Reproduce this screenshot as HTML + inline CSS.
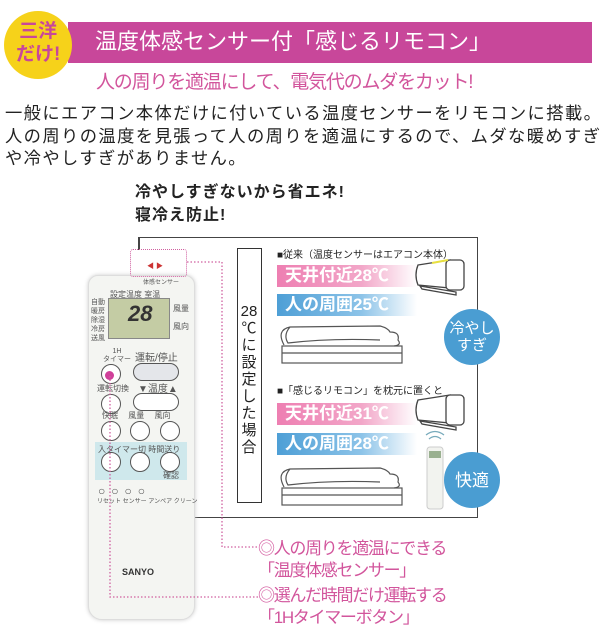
<!DOCTYPE html>
<html><head><meta charset="utf-8"><style>
*{margin:0;padding:0;box-sizing:border-box}
body{width:600px;height:625px;background:#fff;position:relative;overflow:hidden;font-family:"Liberation Sans","Noto Sans CJK JP",sans-serif;color:#222}
.a{position:absolute;white-space:nowrap}
.pk{color:#d2559c}
.bar{position:absolute;height:22px;font-weight:bold;color:#fff;font-size:17px;line-height:22px;padding-left:8px}
.p{background:linear-gradient(90deg,#ee7fb2 0%,#f2a6c8 60%,#fff 100%)}
.b{background:linear-gradient(90deg,#4e9fd6 0%,#8cc3e8 60%,#fff 100%)}
.circ{position:absolute;width:56px;height:56px;border-radius:50%;background:#4a9dd2;color:#fff;text-align:center;font-size:15px;line-height:17px;display:flex;align-items:center;justify-content:center}
.btn{position:absolute;width:20px;height:20px;border:1.5px solid #555;border-radius:50%;background:#fff}
.sm{position:absolute;font-size:8px;color:#555;white-space:nowrap}
</style></head><body>
<div class="a" style="left:68px;top:22px;width:524px;height:41px;background:#c8479a"></div>
<div class="a" style="left:95px;top:26px;color:#fff;font-size:22px;line-height:32px">温度体感センサー付「感じるリモコン」</div>
<div class="a" style="left:4px;top:11px;width:68px;height:68px;border-radius:50%;background:#f6d21a"></div>
<div class="a" style="left:16px;top:20px;font-size:19px;font-weight:bold;color:#c8479a;line-height:23px;text-align:center">三洋<br>だけ!</div>
<div class="a pk" style="left:96px;top:70px;font-size:19px;line-height:26px;letter-spacing:-1.2px">人の周りを適温にして、電気代のムダをカット!</div>
<div class="a" style="left:5px;top:102px;font-size:17.3px;line-height:22.5px;letter-spacing:1.4px">一般にエアコン本体だけに付いている温度センサーをリモコンに搭載。<br>人の周りの温度を見張って人の周りを適温にするので、ムダな暖めすぎ<br>や冷やしすぎがありません。</div>
<div class="a" style="left:135px;top:181px;font-size:16px;font-weight:bold;line-height:23px;letter-spacing:1px">冷やしすぎないから省エネ!<br>寝冷え防止!</div>

<div class="a" style="left:138px;top:237px;width:340px;height:281px;border-top:1.5px solid #444;border-right:1.5px solid #444;border-bottom:1.5px solid #444"></div>
<div class="a" style="left:138px;top:237px;width:1.5px;height:13px;background:#444"></div>

<div class="a" style="left:237px;top:248px;width:25px;height:255px;border:1.5px solid #333;background:#fff"></div>
<div class="a" style="left:238px;top:303px;width:22px;font-size:15px;line-height:17px;white-space:normal;text-align:center">28<br>℃<br>に<br>設<br>定<br>し<br>た<br>場<br>合</div>

<div class="a" style="left:277px;top:246px;font-size:10px">■従来（温度センサーはエアコン本体）</div>
<div class="bar p" style="left:277px;top:265px;width:140px">天井付近28℃</div>
<div class="bar b" style="left:277px;top:294px;width:140px">人の周囲25℃</div>
<div class="a" style="left:277px;top:382px;font-size:10px">■「感じるリモコン」を枕元に置くと</div>
<div class="bar p" style="left:277px;top:403px;width:140px">天井付近31℃</div>
<div class="bar b" style="left:277px;top:433px;width:140px">人の周囲28℃</div>

<svg class="a" style="left:270px;top:320px" width="145" height="200">
<g fill="none" stroke="#555" stroke-width="1.2">
<rect x="12" y="26" width="120" height="17"/><line x1="12" y1="33" x2="132" y2="33"/>
<path d="M14 25 Q6 10 20 7 L110 6 Q118 8 120 12 Q130 12 128 20 Q132 25 124 26 M20 7 Q13 15 18 23 Q60 18 110 20"/>
<g transform="translate(0,142)"><rect x="12" y="26" width="120" height="17"/><line x1="12" y1="33" x2="132" y2="33"/>
<path d="M14 25 Q6 10 20 7 L110 6 Q118 8 120 12 Q130 12 128 20 Q132 25 124 26 M20 7 Q13 15 18 23 Q60 18 110 20"/></g>
</g></svg>
<svg class="a" style="left:410px;top:255px" width="60" height="180">
<g fill="#fff" stroke="#444" stroke-width="1.3">
<path d="M8 10 L40 5 L40 33 L8 30 Q4 20 8 10Z"/><rect x="36" y="5" width="18" height="30" rx="4"/><path d="M10 31 L46 37 L46 40 L12 34Z"/>
<g transform="translate(0,135)"><path d="M8 10 L40 5 L40 33 L8 30 Q4 20 8 10Z"/><rect x="36" y="5" width="18" height="30" rx="4"/><path d="M10 31 L46 37 L46 40 L12 34Z"/></g>
</g>
<line x1="22" y1="8" x2="38" y2="5" stroke="#e8e040" stroke-width="2"/>
</svg>
<svg class="a" style="left:420px;top:425px" width="30" height="90">
<path d="M6 10 Q15 3 24 10 M9 14 Q15 9 21 14" fill="none" stroke="#7ab" stroke-width="1.3"/>
<rect x="7" y="22" width="16" height="62" rx="3" fill="#f2f3ef" stroke="#ccc"/><rect x="9" y="26" width="12" height="7" fill="#9ab090"/>
</svg>
<div class="circ" style="left:444px;top:309px">冷やし<br>すぎ</div>
<div class="circ" style="left:444px;top:452px;font-size:17px">快適</div>

<div class="a" style="left:88px;top:275px;width:107px;height:345px;border-radius:10px 10px 14px 14px;background:#f4f5f2;border:1px solid #ddd;box-shadow:0 0 4px #ccc"></div>
<div class="a" style="left:130px;top:249px;width:57px;height:28px;border:1.5px dotted #d060a0;border-radius:3px"></div>
<div class="a" style="left:147px;top:261px;font-size:7px;color:#c33">◀ ▶</div>
<div class="sm" style="left:143px;top:277px;font-size:6px">体感センサー</div>
<div class="sm" style="left:110px;top:289px">設定温度 室温</div>
<div class="a" style="left:108px;top:298px;width:62px;height:41px;background:#c4cca4;border:1px solid #888"></div>
<div class="a" style="left:128px;top:301px;font-size:22px;font-style:italic;font-weight:bold;color:#333">28</div>
<div class="sm" style="left:91px;top:298px;line-height:9px;font-size:7px">自動<br>暖房<br>除湿<br>冷房<br>送風</div>
<div class="sm" style="left:173px;top:300px;line-height:18px">風量<br>風向</div>
<div class="sm" style="left:103px;top:348px;text-align:center;line-height:8px;font-size:7px">1H<br>タイマー</div>
<div class="sm" style="left:135px;top:349px;font-size:10px">運転/停止</div>
<div class="btn" style="left:101px;top:364px"></div>
<div class="a" style="left:133px;top:363px;width:46px;height:18px;border:1.5px solid #555;border-radius:9px;background:#e4e6ea"></div>
<div class="a" style="left:105px;top:371px;width:9px;height:9px;border-radius:50%;background:#d0409a"></div>
<div class="sm" style="left:97px;top:383px">運転切換</div>
<div class="sm" style="left:138px;top:380px;font-size:10px">▼温度▲</div>
<div class="btn" style="left:101px;top:394px"></div>
<div class="a" style="left:133px;top:393px;width:46px;height:18px;border:1.5px solid #555;border-radius:9px;background:#fff"></div>
<div class="sm" style="left:102px;top:410px">快眠　 風量　 風向</div>
<div class="btn" style="left:101px;top:421px"></div><div class="btn" style="left:130px;top:421px"></div><div class="btn" style="left:160px;top:421px"></div>
<div class="a" style="left:95px;top:442px;width:92px;height:38px;background:#cfe8ec"></div>
<div class="sm" style="left:98px;top:444px">入タイマー切 時間送り</div>
<div class="btn" style="left:101px;top:452px"></div><div class="btn" style="left:130px;top:452px"></div><div class="btn" style="left:160px;top:452px"></div>
<div class="sm" style="left:163px;top:470px">確認</div>
<div class="sm" style="left:98px;top:484px;font-size:12px;letter-spacing:6px">○○○○</div>
<div class="sm" style="left:97px;top:496px;font-size:6px">リセット センサー アンペア クリーン</div>
<div class="a" style="left:122px;top:567px;font-size:9px;font-weight:bold;color:#333">SANYO</div>

<svg class="a" style="left:0;top:0" width="600" height="625">
<g fill="none" stroke="#d060a0" stroke-width="1.3" stroke-dasharray="1.5 2">
<path d="M187 262 H222 V547 H258"/><path d="M110 376 V597 H258"/>
</g></svg>

<div class="a pk" style="left:258px;top:538px;font-size:17px;line-height:22px;letter-spacing:-1.3px">◎人の周りを適温にできる<br>「温度体感センサー」</div>
<div class="a pk" style="left:258px;top:585px;font-size:17px;line-height:22px;letter-spacing:-1.3px">◎選んだ時間だけ運転する<br>「1Hタイマーボタン」</div>
</body></html>
